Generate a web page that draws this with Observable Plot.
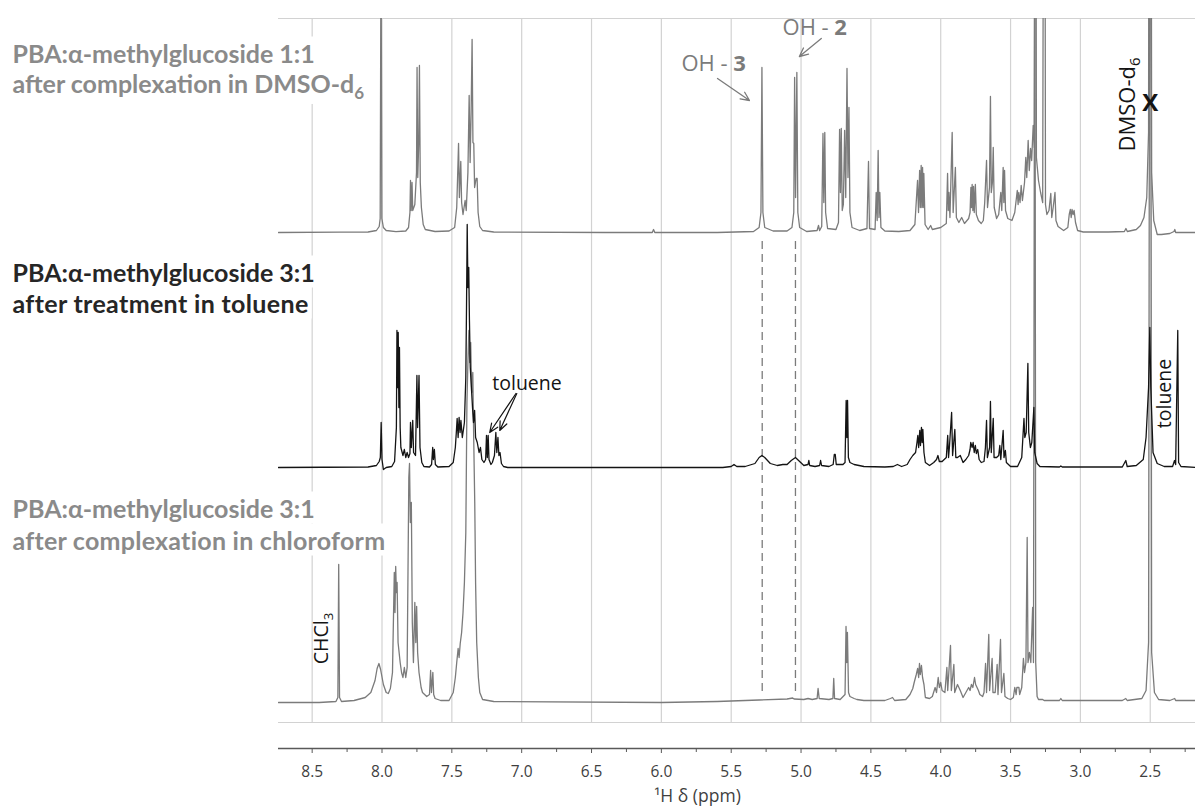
<!DOCTYPE html>
<html><head><meta charset="utf-8">
<script src="https://cdn.jsdelivr.net/npm/d3@7"></script>
<script src="https://cdn.jsdelivr.net/npm/@observablehq/plot@0.6"></script>
<style>html,body{margin:0;padding:0;background:#fff;} #chart svg{display:block;}</style>
</head><body><div id="chart"></div>
<script>
// ---------- DATA (ppm, intensity above each trace's baseline) ----------
const majorTicks = [8.5, 8.0, 7.5, 7.0, 6.5, 6.0, 5.5, 5.0, 4.5, 4.0, 3.5, 3.0, 2.5];
const minorTicks = [8.25, 7.75, 7.25, 6.75, 6.25, 5.75, 5.25, 4.75, 4.25, 3.75, 3.25, 2.75, 2.25];
const dashedMarkers = [5.278, 5.040];

const sampleLabels = [
  "PBA:α-methylglucoside 1:1", "after complexation in DMSO-d_{6}",
  "PBA:α-methylglucoside 3:1", "after treatment in toluene",
  "PBA:α-methylglucoside 3:1", "after complexation in chloroform"
];

// 1:1 complex in DMSO-d6 (top, gray)
const dmsoSpectrum = [
[8.741,0],[8.30,0.3],[8.10,0.5],[8.04,2],[8.02,6],[8.013,14],[8.007,300],[8.001,14],[7.99,5],[7.97,2],[7.90,0.8],[7.83,1.5],[7.81,5],
[7.800,20],[7.796,52],[7.791,22],[7.785,50],[7.780,22],[7.765,28],[7.753,60],[7.749,165],[7.744,55],[7.737,90],[7.732,167],[7.726,50],[7.718,25],[7.705,8],[7.69,3],[7.62,1],
[7.52,1.5],[7.48,5],[7.465,25],[7.452,89],[7.446,35],[7.436,71],[7.430,30],[7.42,18],[7.405,32],[7.397,22],[7.385,60],[7.376,137],[7.369,70],[7.362,120],[7.355,193],[7.349,90],[7.343,89],[7.337,45],[7.326,54],[7.319,54],[7.312,20],[7.30,6],[7.28,2],[7.20,0.5],
[6.40,0],[6.065,0],[6.056,3],[6.047,0],[5.60,0],[5.34,1],[5.30,5],[5.287,20],[5.280,165],[5.273,20],[5.26,5],[5.20,1.5],[5.10,1.5],[5.065,5],[5.052,20],[5.046,155],[5.039,35],[5.030,160],[5.023,20],[5.01,5],[4.96,1],
[4.885,2],[4.875,7],[4.867,2],[4.852,6],[4.843,99],[4.837,30],[4.830,100],[4.824,20],[4.81,4],[4.75,3],[4.732,10],[4.724,103],[4.718,40],[4.712,104],[4.705,22],[4.697,28],[4.688,102],[4.680,35],[4.671,164],[4.664,55],[4.657,125],[4.650,20],[4.635,5],[4.58,2],
[4.528,4],[4.517,71],[4.510,4],[4.47,3],[4.462,40],[4.455,12],[4.448,82],[4.442,15],[4.436,40],[4.428,5],[4.40,1.5],[4.30,1],[4.22,2],[4.185,8],[4.166,52],[4.159,20],[4.151,62],[4.146,25],[4.140,67],[4.135,25],[4.130,65],[4.125,25],[4.121,59],[4.112,8],[4.09,3],[4.072,7],[4.06,3],
[4.00,5],[3.96,9],[3.951,59],[3.946,22],[3.941,40],[3.934,15],[3.918,100],[3.911,20],[3.895,65],[3.888,15],[3.87,10],[3.85,15],[3.83,9],[3.80,14],[3.790,20],[3.784,45],[3.780,25],[3.775,48],[3.770,22],[3.765,46],[3.760,20],[3.752,48],[3.745,18],[3.73,12],[3.71,9],
[3.695,12],[3.685,30],[3.672,72],[3.665,25],[3.651,45],[3.644,136],[3.638,40],[3.630,50],[3.624,85],[3.617,25],[3.60,14],[3.585,18],[3.570,40],[3.563,22],[3.553,65],[3.548,30],[3.543,62],[3.536,22],[3.52,14],[3.49,12],[3.47,20],
[3.452,42],[3.446,28],[3.441,40],[3.432,30],[3.424,47],[3.415,32],[3.40,50],[3.391,75],[3.384,55],[3.374,92],[3.366,62],[3.357,84],[3.349,72],[3.338,107],[3.330,85],[3.322,800],[3.315,75],[3.30,52],[3.285,40],[3.27,30],[3.258,800],[3.250,28],[3.24,18],
[3.225,22],[3.212,39],[3.205,15],[3.195,25],[3.182,40],[3.175,12],[3.16,6],[3.12,2],[3.09,5],[3.08,18],[3.072,23],[3.066,15],[3.060,23],[3.052,18],[3.045,22],[3.035,10],[3.02,2],[2.98,0.5],[2.80,0.5],[2.685,1],[2.674,4],[2.664,1],
[2.60,3],[2.57,7],[2.545,15],[2.525,35],[2.512,100],[2.506,800],[2.496,800],[2.490,60],[2.475,12],[2.45,-2],[2.42,-2],[2.36,-1],[2.330,1],[2.324,3],[2.318,0],[2.176,0]
];

// 3:1 after treatment in toluene (middle, black)
const tolueneSpectrum = [
[8.741,0],[8.10,0.5],[8.04,2],[8.02,6],[8.012,10],[8.006,45],[8.000,8],[7.99,-2],[7.97,0],[7.93,1],[7.91,6],[7.897,40],[7.893,137],[7.888,80],[7.884,135],[7.879,60],[7.875,120],[7.870,40],[7.865,20],
[7.85,12],[7.84,18],[7.83,10],[7.82,15],[7.81,10],[7.80,14],[7.796,45],[7.790,20],[7.780,47],[7.774,15],[7.76,12],[7.750,92],[7.745,40],[7.735,92],[7.728,20],[7.715,5],[7.70,1],[7.66,0.5],[7.645,3],[7.637,20],[7.632,8],[7.625,18],[7.618,3],[7.60,0.5],
[7.52,1],[7.49,5],[7.475,20],[7.468,35],[7.462,49],[7.455,30],[7.448,50],[7.441,35],[7.435,47],[7.425,30],[7.41,45],[7.400,90],[7.395,160],[7.390,243],[7.385,180],[7.379,200],[7.374,147],[7.368,100],[7.360,80],[7.352,60],[7.345,45],[7.337,57],[7.330,30],[7.318,25],[7.305,15],[7.295,20],[7.285,8],
[7.27,5],[7.258,8],[7.252,32],[7.246,10],[7.240,32],[7.234,8],[7.22,3],[7.21,5],[7.195,12],[7.185,35],[7.178,15],[7.170,30],[7.163,12],[7.155,15],[7.145,4],[7.13,1],[7.10,0],[6.00,0],
[5.56,0],[5.50,1],[5.48,3],[5.46,1],[5.40,1],[5.33,4],[5.30,10],[5.28,12],[5.26,10],[5.22,4],[5.17,2],[5.13,3],[5.10,3],[5.07,7],[5.04,10],[5.01,6],[4.98,2],[4.95,3],[4.944,7],[4.938,2],[4.90,1],[4.867,2],[4.860,7],[4.853,2],[4.80,1],
[4.77,3],[4.762,13],[4.755,13],[4.748,3],[4.70,3],[4.685,5],[4.677,67],[4.672,30],[4.667,67],[4.661,10],[4.65,5],[4.62,3],[4.55,1],[4.40,0.5],[4.34,1],[4.31,3],[4.28,1],
[4.24,3],[4.22,8],[4.20,12],[4.18,15],[4.170,25],[4.164,32],[4.158,20],[4.150,37],[4.145,22],[4.138,40],[4.133,25],[4.128,38],[4.12,15],[4.11,5],[4.08,2],[4.05,5],[4.03,8],[4.02,12],[4.01,6],
[3.99,6],[3.96,10],[3.950,32],[3.944,10],[3.938,20],[3.922,55],[3.915,12],[3.899,38],[3.892,10],[3.88,10],[3.86,12],[3.84,5],[3.82,8],[3.80,12],[3.790,18],[3.785,25],[3.775,20],[3.768,25],[3.760,15],[3.752,22],[3.745,14],[3.735,18],[3.725,8],[3.71,5],
[3.69,6],[3.680,20],[3.672,47],[3.666,10],[3.650,20],[3.644,66],[3.638,15],[3.624,49],[3.618,10],[3.60,10],[3.585,12],[3.577,22],[3.570,8],[3.553,37],[3.547,10],[3.537,17],[3.530,5],[3.50,1],[3.45,1],
[3.42,10],[3.404,49],[3.398,30],[3.388,35],[3.376,104],[3.370,35],[3.358,20],[3.348,25],[3.333,60],[3.327,15],[3.31,4],[3.29,1],[3.15,0.5],[3.14,1.5],[3.13,0.5],[2.70,0.5],[2.675,7],[2.665,1],
[2.60,2],[2.55,8],[2.53,30],[2.512,80],[2.503,140],[2.496,80],[2.48,15],[2.45,4],[2.40,1],[2.34,1],[2.326,7],[2.318,3],[2.303,137],[2.297,5],[2.28,1],[2.176,0]
];

// 3:1 after complexation in chloroform (bottom, gray)
const chloroformSpectrum = [
[8.741,0],[8.45,0],[8.33,1],[8.316,5],[8.310,138],[8.304,5],[8.29,1],[8.20,2],[8.12,5],[8.08,10],[8.05,22],[8.035,34],[8.022,39],[8.01,33],[7.99,18],[7.97,10],[7.955,9],[7.94,14],[7.925,30],
[7.912,130],[7.907,90],[7.902,136],[7.897,110],[7.892,120],[7.885,60],[7.87,40],[7.86,30],[7.85,25],[7.84,35],[7.83,25],[7.82,35],[7.808,225],[7.803,239],[7.797,180],[7.790,200],[7.783,80],[7.775,40],[7.765,100],[7.758,60],[7.752,96],[7.745,50],[7.735,30],[7.72,15],[7.71,10],[7.695,8],[7.68,6],
[7.66,8],[7.652,32],[7.646,10],[7.636,30],[7.630,8],[7.62,4],[7.58,2],[7.52,2],[7.49,10],[7.475,25],[7.465,40],[7.455,54],[7.448,45],[7.440,59],[7.430,70],[7.420,90],[7.410,120],[7.400,170],[7.392,300],[7.385,340],[7.378,372],[7.372,340],[7.365,360],[7.358,310],[7.350,330],[7.343,260],[7.336,200],[7.330,120],[7.322,60],[7.31,25],[7.30,10],[7.28,3],[7.20,1],
[6.00,0],[5.60,1],[5.30,2.5],[5.10,3.5],[5.06,4.5],[5.05,3.5],[4.98,3],[4.95,4],[4.92,3],[4.885,4],[4.878,14],[4.870,4],[4.80,3],[4.772,4],[4.766,24],[4.760,4],[4.72,3],[4.685,8],[4.678,76],[4.673,40],[4.668,70],[4.660,10],[4.65,6],[4.62,4],[4.60,3],[4.55,2],[4.40,2],[4.36,4],[4.345,5],[4.33,2],
[4.25,3],[4.22,8],[4.20,14],[4.19,20],[4.175,28],[4.165,34],[4.158,25],[4.152,39],[4.146,28],[4.138,37],[4.130,25],[4.12,18],[4.11,5],[4.08,4],[4.06,6],[4.04,15],[4.03,10],[4.018,25],[4.010,15],[4.000,20],[3.99,12],[3.97,10],
[3.956,35],[3.950,12],[3.930,57],[3.924,12],[3.906,38],[3.900,10],[3.88,18],[3.87,15],[3.86,12],[3.84,5],[3.82,10],[3.80,15],[3.79,12],[3.78,18],[3.77,15],[3.758,25],[3.750,18],[3.74,15],[3.73,12],[3.72,8],[3.70,6],
[3.69,10],[3.679,39],[3.672,10],[3.656,68],[3.650,12],[3.632,44],[3.626,10],[3.61,10],[3.596,38],[3.590,8],[3.572,63],[3.565,10],[3.548,29],[3.540,6],[3.52,4],[3.50,3],[3.48,5],[3.47,15],[3.46,8],[3.455,15],[3.44,15],[3.435,8],
[3.42,15],[3.408,44],[3.400,30],[3.390,40],[3.381,165],[3.375,40],[3.365,50],[3.355,40],[3.342,95],[3.336,40],[3.326,900],[3.320,40],[3.31,6],[3.30,3],[3.27,3],[3.26,2],[3.15,2],[3.14,4],[3.13,2],[2.70,2],[2.675,4],[2.665,2],
[2.56,4],[2.53,12],[2.512,60],[2.503,900],[2.497,900],[2.490,50],[2.47,10],[2.44,3],[2.36,2],[2.325,4],[2.318,2],[2.176,2]
];

// ---------- LAYOUT / STYLE ----------
const GRAY = "#7b7b7b";
const LABEL_GRAY = "#8a8a8a";
const INK = "#141414";
const OFF_TOP = 516, OFF_MID = 281, OFF_BOT = 46;
const labelY = [694, 664, 475, 444, 239, 207];
const labelColor = [LABEL_GRAY, LABEL_GRAY, "#262626", "#262626", LABEL_GRAY, LABEL_GRAY];
const labelSpacing = [0, 0, 0, 0.35, 0, 0.25];

const trace = (data, off, stroke) => Plot.line(data, {
  x: d => d[0], y: d => d[1] + off, stroke, strokeWidth: 1.3, clip: true
});

const plot = Plot.plot({
  width: 1195, height: 807,
  marginLeft: 278, marginRight: 0, marginTop: 18, marginBottom: 59,
  x: {domain: [8.741, 2.176]},
  y: {domain: [0, 730], axis: null},
  style: {fontFamily: "'Open Sans', sans-serif", background: "#fff", overflow: "visible"},
  marks: [
    Plot.ruleX(majorTicks, {y1: 26, y2: 730, stroke: "#d2d2d2", strokeWidth: 1.2}),
    Plot.ruleY([730, 26], {stroke: "#d2d2d2", strokeWidth: 1.2}),
    Plot.ruleY([0], {stroke: "#595959", strokeWidth: 1.6}),
    Plot.axisX({ticks: majorTicks, tickSize: 5, tickPadding: 12, tickFormat: d => d.toFixed(1),
                fontSize: 15.5, color: "#3f3f3f", stroke: "#595959", label: null}),
    Plot.axisX({ticks: minorTicks, tickSize: 4, tickFormat: () => "", stroke: "#595959", label: null}),
    Plot.ruleX(dashedMarkers, {y1: 57, y2: 512, stroke: GRAY, strokeWidth: 1.3, strokeDasharray: "8,5"}),
    trace(chloroformSpectrum, OFF_BOT, GRAY),
    trace(tolueneSpectrum, OFF_MID, INK),
    trace(dmsoSpectrum, OFF_TOP, GRAY),
    // sample labels
    Plot.text(sampleLabels, {frameAnchor: "left", dx: -266, y: (d, i) => labelY[i], text: d => d,
      textAnchor: "start", fill: (d, i) => labelColor[i], fontFamily: "Lato, sans-serif", fontWeight: 700, fontSize: 25}),
    // annotations
    Plot.text(["OH - *{3}"], {x: 5.626, y: 685, text: d => d, fill: GRAY, fontSize: 22}),
    Plot.text(["OH - *{2}"], {x: 4.902, y: 721, text: d => d, fill: GRAY, fontSize: 22}),
    Plot.arrow([{x1: 5.598, y1: 670, x2: 5.369, y2: 648}, {x1: 4.855, y1: 710, x2: 5.012, y2: 692}],
      {x1: "x1", y1: "y1", x2: "x2", y2: "y2", stroke: GRAY, strokeWidth: 1.3, headLength: 11, headAngle: 50}),
    Plot.text(["toluene"], {x: 6.962, y: 365, text: d => d, fill: INK, fontSize: 19.5}),
    Plot.arrow([{x1: 7.041, y1: 355, x2: 7.229, y2: 316}, {x1: 7.035, y1: 355, x2: 7.157, y2: 318}],
      {x1: "x1", y1: "y1", x2: "x2", y2: "y2", stroke: INK, strokeWidth: 1.2, headLength: 12, headAngle: 45}),
    Plot.text(["toluene"], {x: 2.394, y: 355, text: d => d, fill: INK, fontSize: 19.5, rotate: -90}),
    Plot.text(["DMSO-d_{6}"], {x: 2.663, y: 644, text: d => d, fill: INK, fontSize: 22, rotate: -90}),
    Plot.text(["X"], {x: 2.5, y: 645, text: d => d, fill: INK, fontSize: 24, fontWeight: 700}),
    Plot.text(["CHCl_{3}"], {x: 8.433, y: 110, text: d => d, fill: INK, fontSize: 19.5, rotate: -90}),
    Plot.text(["¹H δ (ppm)"], {x: 5.741, y: -48, text: d => d, fill: "#3f3f3f", fontSize: 17.5})
  ]
});

function richText(root) {
  const NS = "http://www.w3.org/2000/svg";
  root.querySelectorAll("text").forEach(t => {
    const s = t.textContent;
    if (!/[_*]\{/.test(s)) return;
    while (t.firstChild) t.removeChild(t.firstChild);
    const re = /([_*])\{([^}]*)\}/g;
    let last = 0, m;
    while ((m = re.exec(s)) !== null) {
      if (m.index > last) t.appendChild(document.createTextNode(s.slice(last, m.index)));
      const ts = document.createElementNS(NS, "tspan");
      ts.textContent = m[2];
      if (m[1] === "_") { ts.setAttribute("font-size", "68%"); ts.setAttribute("dy", "0.38em"); }
      else { ts.setAttribute("font-weight", "bold"); }
      t.appendChild(ts);
      last = re.lastIndex;
    }
    if (last < s.length) t.appendChild(document.createTextNode(s.slice(last)));
  });
}
richText(plot);
document.getElementById("chart").append(plot);

// white boxes behind the sample labels (they hide the grid lines, as in the original)
(function labelBoxes() {
  const NS = "http://www.w3.org/2000/svg";
  const g = [...plot.querySelectorAll("g")].find(el => (el.getAttribute("font-family") || "").startsWith("Lato"));
  if (!g) return;
  const texts = [...g.querySelectorAll("text")];
  texts.forEach((t, i) => { if (labelSpacing[i]) t.setAttribute("letter-spacing", labelSpacing[i]); });
  texts.forEach(t => {
    const b = t.getBBox();
    const r = document.createElementNS(NS, "rect");
    r.setAttribute("x", b.x - 3); r.setAttribute("y", b.y - 1);
    r.setAttribute("width", b.width + 6); r.setAttribute("height", b.height + 2);
    r.setAttribute("fill", "#fff");
    const tr = t.getAttribute("transform"); if (tr) r.setAttribute("transform", tr);
    g.insertBefore(r, g.firstChild);
  });
})();
</script></body></html>
